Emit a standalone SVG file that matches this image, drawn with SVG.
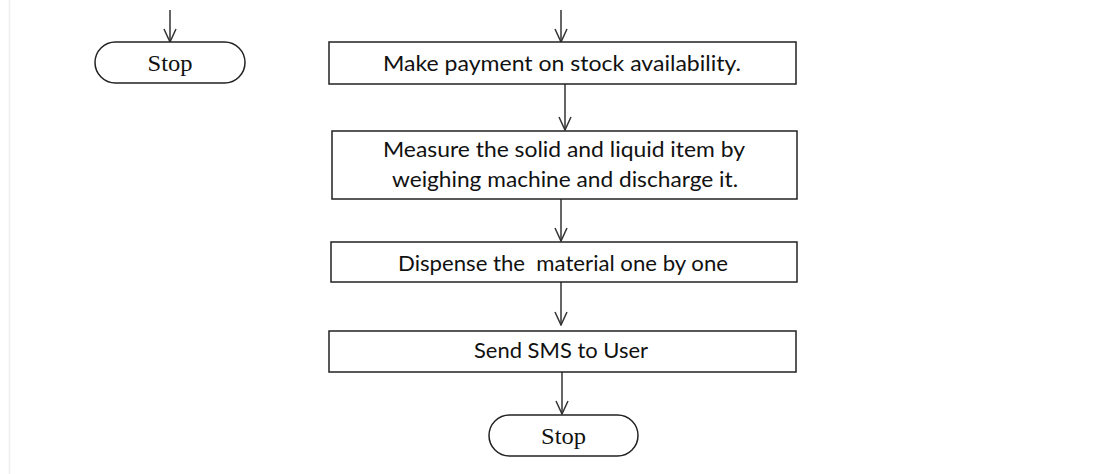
<svg xmlns="http://www.w3.org/2000/svg" width="1110" height="474" viewBox="0 0 1110 474">
<style>
.box{fill:#fff;stroke:#222;stroke-width:1.5}
.t{font-family:Lato,"Open Sans","Liberation Sans",sans-serif;font-size:21px;fill:#111;text-anchor:middle}
.s{font-family:"Liberation Serif",serif;font-size:24px;fill:#111;text-anchor:middle}
.c{fill:none;stroke:#333;stroke-width:1.5}
</style>
<defs>
<marker id="ah" viewBox="0 0 15 14" refX="14" refY="7" markerWidth="15" markerHeight="14" markerUnits="userSpaceOnUse" orient="auto">
<path d="M1,1 L14,7 L1,13" fill="none" stroke="#333" stroke-width="1.5"/>
</marker>
</defs>
<rect width="1110" height="474" fill="#fff"/>
<line x1="9.5" y1="0" x2="9.5" y2="474" stroke="#eee" stroke-width="1.5"/>
<g id="connectors">
<line class="c" x1="170" y1="10" x2="170" y2="42" marker-end="url(#ah)"/>
<line class="c" x1="561" y1="10" x2="561" y2="42" marker-end="url(#ah)"/>
<line class="c" x1="565" y1="84" x2="565" y2="130" marker-end="url(#ah)"/>
<line class="c" x1="561" y1="199" x2="561" y2="241" marker-end="url(#ah)"/>
<line class="c" x1="561" y1="282" x2="561" y2="325" marker-end="url(#ah)"/>
<line class="c" x1="562" y1="372" x2="562" y2="414" marker-end="url(#ah)"/>
</g>
<g id="stop1">
<rect class="box" x="95" y="42" width="150" height="41" rx="20.5"/>
<text class="s" x="170" y="71" textLength="45" lengthAdjust="spacingAndGlyphs">Stop</text>
</g>
<g id="payment">
<rect class="box" x="329" y="42" width="467" height="42"/>
<text class="t" x="562" y="71" textLength="358" lengthAdjust="spacingAndGlyphs">Make payment on stock availability.</text>
</g>
<g id="measure">
<rect class="box" x="332" y="131" width="465" height="68"/>
<text class="t" x="564" y="157" textLength="362" lengthAdjust="spacingAndGlyphs">Measure the solid and liquid item by</text>
<text class="t" x="565" y="187" textLength="346" lengthAdjust="spacingAndGlyphs">weighing machine and discharge it.</text>
</g>
<g id="dispense">
<rect class="box" x="331" y="242" width="466" height="40"/>
<text class="t" x="563" y="271" textLength="330" lengthAdjust="spacingAndGlyphs" xml:space="preserve">Dispense the  material one by one</text>
</g>
<g id="sms">
<rect class="box" x="329" y="331" width="467" height="41"/>
<text class="t" x="561" y="358" textLength="174" lengthAdjust="spacingAndGlyphs">Send SMS to User</text>
</g>
<g id="stop2">
<rect class="box" x="489" y="415" width="149" height="41" rx="20.5"/>
<text class="s" x="563.5" y="444" textLength="45" lengthAdjust="spacingAndGlyphs">Stop</text>
</g>
</svg>
